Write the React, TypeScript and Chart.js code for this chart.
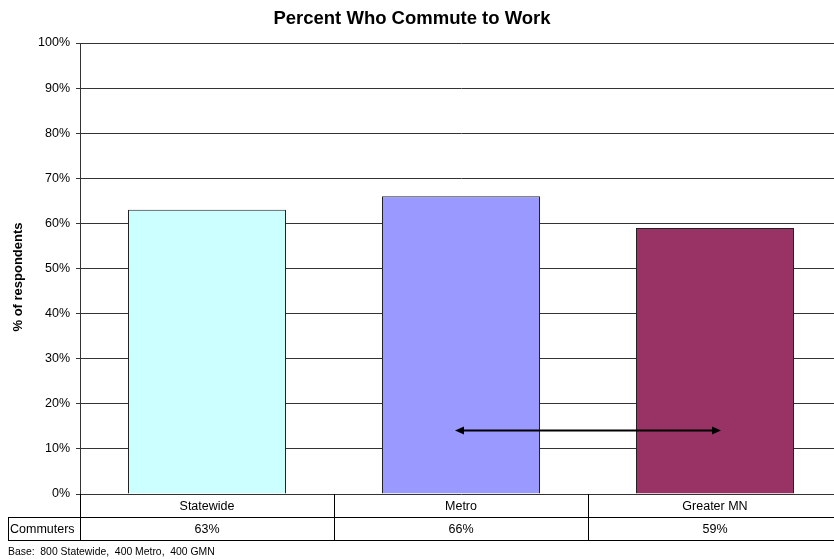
import React, { useEffect, useRef } from "react";
import { Chart, registerables } from "chart.js";

Chart.register(...registerables);

const title = "Percent Who Commute to Work";
const yAxisTitle = "% of respondents";
const categories = ["Statewide", "Metro", "Greater MN"];
const values = [63, 66, 59];
const barColors = ["#CCFFFF", "#9999FF", "#993366"];
const rowLabel = "Commuters";
const footnote = "Base:  800 Statewide,  400 Metro,  400 GMN";
const yMin = 0;
const yMax = 100;
const yStep = 10;
const arrowFromIndex = 1;
const arrowToIndex = 2;
const arrowValue = 14.2;

const FONT = "'Liberation Sans', Arial, Helvetica, sans-serif";

const overlayPlugin = {
  id: "overlay",
  afterDatasetsDraw(chart: any) {
    const { ctx, chartArea, scales } = chart;
    const x = scales.x;
    const y = scales.y;
    // arrow
    const ay = Math.round(y.getPixelForValue(arrowValue)) + 0.5;
    const x1 = x.getPixelForValue(arrowFromIndex) - 6;
    const x2 = x.getPixelForValue(arrowToIndex) + 6;
    const head = 9;
    ctx.save();
    ctx.strokeStyle = "#000";
    ctx.fillStyle = "#000";
    ctx.lineWidth = 2;
    ctx.beginPath();
    ctx.moveTo(x1 + head - 1, ay);
    ctx.lineTo(x2 - head + 1, ay);
    ctx.stroke();
    ctx.beginPath();
    ctx.moveTo(x1, ay);
    ctx.lineTo(x1 + head, ay - 4);
    ctx.lineTo(x1 + head, ay + 4);
    ctx.closePath();
    ctx.fill();
    ctx.beginPath();
    ctx.moveTo(x2, ay);
    ctx.lineTo(x2 - head, ay - 4);
    ctx.lineTo(x2 - head, ay + 4);
    ctx.closePath();
    ctx.fill();
    ctx.restore();
  },
  afterDraw(chart: any) {
    const { ctx, chartArea, scales } = chart;
    const x = scales.x;
    const left = chartArea.left;
    const right = chartArea.right;
    const top = chartArea.bottom;
    const rowH = 23;
    const n = categories.length;
    const cw = (right - left) / n;
    ctx.save();
    ctx.strokeStyle = "#000";
    ctx.lineWidth = 1;
    const hline = (yy: number, xa: number, xb: number) => {
      ctx.beginPath();
      ctx.moveTo(xa, Math.round(yy) + 0.5);
      ctx.lineTo(xb, Math.round(yy) + 0.5);
      ctx.stroke();
    };
    const vline = (xx: number, ya: number, yb: number) => {
      ctx.beginPath();
      ctx.moveTo(Math.round(xx) + 0.5, ya);
      ctx.lineTo(Math.round(xx) + 0.5, yb);
      ctx.stroke();
    };
    hline(top + rowH, 8, right);
    hline(top + 2 * rowH, 8, right);
    vline(8, top + rowH, top + 2 * rowH + 1);
    for (let i = 0; i <= n; i++) {
      vline(left + i * cw, top, top + 2 * rowH + 1);
    }
    ctx.fillStyle = "#000";
    ctx.font = `12.5px ${FONT}`;
    ctx.textAlign = "center";
    ctx.textBaseline = "middle";
    categories.forEach((c, i) => {
      const cx = x.getPixelForValue(i);
      ctx.fillText(c, cx, top + rowH / 2 + 1);
      ctx.fillText(`${values[i]}%`, cx, top + rowH * 1.5 + 1);
    });
    ctx.textAlign = "left";
    ctx.fillText(rowLabel, 10, top + rowH * 1.5 + 1);

    // title
    ctx.font = `bold 18.5px ${FONT}`;
    ctx.textAlign = "center";
    ctx.fillText(title, 412, 19);

    // y axis title
    ctx.save();
    ctx.translate(18, 277);
    ctx.rotate(-Math.PI / 2);
    ctx.font = `bold 13px ${FONT}`;
    ctx.fillText(yAxisTitle, 0, 0);
    ctx.restore();

    // footnote
    ctx.font = `10.4px ${FONT}`;
    ctx.textAlign = "left";
    ctx.fillText(footnote, 8, 552);
    ctx.restore();
  },
};

export default function App() {
  const ref = useRef<HTMLCanvasElement | null>(null);
  useEffect(() => {
    if (!ref.current) return;
    const chart = new Chart(ref.current, {
      type: "bar",
      data: {
        labels: categories,
        datasets: [
          {
            data: values,
            backgroundColor: barColors,
            borderColor: "#222",
            borderWidth: 1,
            categoryPercentage: 1,
            barPercentage: 0.622,
          },
        ],
      },
      options: {
        responsive: false,
        animation: false,
        devicePixelRatio: 1,
        layout: { padding: { left: 0, top: 43, right: 0, bottom: 65 } },
        plugins: {
          legend: { display: false },
          title: { display: false },
          tooltip: { enabled: false },
        },
        scales: {
          x: { display: false },
          y: {
            min: yMin,
            max: yMax,
            afterFit: (s: any) => {
              s.width = 80;
            },
            ticks: {
              stepSize: yStep,
              callback: (v: any) => `${v}%`,
              color: "#000",
              font: { family: FONT, size: 12.5 },
              padding: 6,
            },
            grid: { color: "#333", lineWidth: 1, tickLength: 4 },
            border: { display: true, color: "#333", width: 1 },
          },
        },
      },
      plugins: [overlayPlugin],
    });
    return () => chart.destroy();
  }, []);
  return (
    <div
      style={{
        position: "fixed",
        left: 0,
        top: 0,
        width: 834,
        height: 559,
        overflow: "hidden",
        background: "#fff",
      }}
    >
      <canvas ref={ref} width={842} height={559} style={{ display: "block", width: 842, height: 559 }} />
    </div>
  );
}
